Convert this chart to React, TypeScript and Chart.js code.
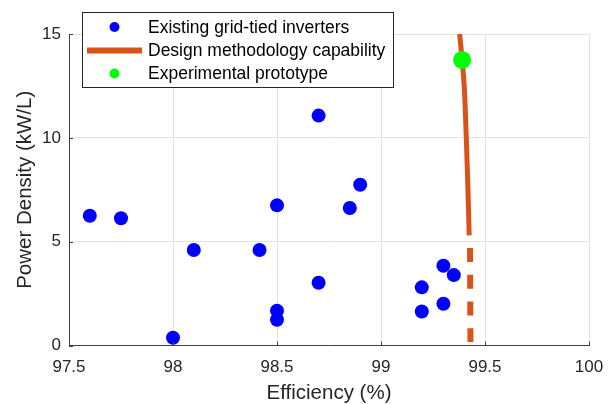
import React, { useEffect, useRef } from "react";
import { Chart, registerables } from "chart.js";

Chart.register(...registerables);

// ---- Data ----
const existingEfficiency = [97.6, 97.75, 98.0, 98.1, 98.416, 98.5, 98.5, 98.5, 98.7, 98.7, 98.85, 98.9, 99.196, 99.196, 99.3, 99.35, 99.3];
const existingDensity = [6.25, 6.13, 0.37, 4.6, 4.6, 6.75, 1.67, 1.24, 11.07, 3.02, 6.62, 7.74, 2.8, 1.64, 3.84, 3.39, 2.01];

const capabilityEfficiency = [99.378, 99.39, 99.4, 99.41, 99.418, 99.424];
const capabilityDensity = [15, 13.75, 12.5, 10, 7.5, 5.3];

const extrapolatedEfficiency = [99.428, 99.43];
const extrapolatedDensity = [4.69, 0.17];

const prototypeEfficiency = [99.39];
const prototypeDensity = [13.75];

const xTickValues = [97.5, 98, 98.5, 99, 99.5, 100];
const xTickLabels = ["97.5", "98", "98.5", "99", "99.5", "100"];
const yTickValues = [0, 5, 10, 15];
const yTickLabels = ["0", "5", "10", "15"];

const legendLabels = ["Existing grid-tied inverters", "Design methodology capability", "Experimental prototype"];

const FONT = '"Liberation Sans", Arial, Helvetica, sans-serif';
const BLUE = "#0000FF";
const ORANGE = "#D95319";
const GREEN = "#00FF00";
const TEXT = "#262626";

const toPoints = (xs: number[], ys: number[]) => xs.map((x, i) => ({ x, y: ys[i] }));

const tickPlugin = {
  id: "inwardTicks",
  afterDatasetsDraw(chart: any) {
    const { ctx, chartArea, scales } = chart;
    ctx.save();
    ctx.strokeStyle = "#404040";
    ctx.lineWidth = 1;
    ctx.beginPath();
    xTickValues.forEach((v) => {
      const px = Math.round(scales.x.getPixelForValue(v)) + 0.5;
      ctx.moveTo(px, chartArea.bottom);
      ctx.lineTo(px, chartArea.bottom - 4);
    });
    yTickValues.forEach((v) => {
      const py = Math.round(scales.y.getPixelForValue(v)) + 0.5;
      ctx.moveTo(chartArea.left, py);
      ctx.lineTo(chartArea.left + 4, py);
    });
    ctx.stroke();
    ctx.restore();
  },
};

const legendPlugin = {
  id: "boxLegend",
  afterDraw(chart: any) {
    const ctx = chart.ctx;
    ctx.save();
    const x0 = 82.5, y0 = 12.5, w = 311, h = 75;
    ctx.fillStyle = "#ffffff";
    ctx.fillRect(x0, y0, w, h);
    ctx.strokeStyle = "#262626";
    ctx.lineWidth = 1;
    ctx.strokeRect(x0, y0, w, h);
    const rows = [27, 50.5, 73.5];
    ctx.font = `17.5px ${FONT}`;
    ctx.textBaseline = "middle";
    ctx.textAlign = "left";
    ctx.fillStyle = BLUE;
    ctx.beginPath();
    ctx.arc(114.5, rows[0], 5, 0, Math.PI * 2);
    ctx.fill();
    ctx.strokeStyle = ORANGE;
    ctx.lineWidth = 6;
    ctx.beginPath();
    ctx.moveTo(87, rows[1]);
    ctx.lineTo(142, rows[1]);
    ctx.stroke();
    ctx.fillStyle = GREEN;
    ctx.beginPath();
    ctx.arc(114.5, rows[2], 5, 0, Math.PI * 2);
    ctx.fill();
    ctx.fillStyle = "#000000";
    legendLabels.forEach((t, i) => ctx.fillText(t, 148, rows[i] + 1));
    ctx.restore();
  },
};

export default function App() {
  const ref = useRef<HTMLCanvasElement>(null);
  useEffect(() => {
    if (!ref.current) return;
    const chart = new Chart(ref.current, {
      type: "scatter",
      data: {
        datasets: [
          {
            label: legendLabels[2],
            data: toPoints(prototypeEfficiency, prototypeDensity),
            backgroundColor: GREEN,
            borderColor: GREEN,
            borderWidth: 0,
            pointRadius: 9,
            order: 0,
          },
          {
            label: legendLabels[1],
            data: toPoints(capabilityEfficiency, capabilityDensity),
            showLine: true,
            borderColor: ORANGE,
            borderWidth: 5,
            pointRadius: 0,
            tension: 0.4,
            order: 1,
          },
          {
            label: "extrapolated",
            data: toPoints(extrapolatedEfficiency, extrapolatedDensity),
            showLine: true,
            borderColor: ORANGE,
            borderWidth: 6,
            borderDash: [14, 12.7],
            pointRadius: 0,
            order: 1,
          },
          {
            label: legendLabels[0],
            data: toPoints(existingEfficiency, existingDensity),
            backgroundColor: BLUE,
            borderColor: BLUE,
            borderWidth: 0,
            pointRadius: 7,
            order: 2,
          },
        ],
      } as any,
      options: {
        responsive: false,
        animation: false,
        layout: { padding: { top: 34, right: 27, left: 0, bottom: 0 } },
        plugins: { legend: { display: false }, tooltip: { enabled: false } },
        scales: {
          x: {
            type: "linear",
            min: 97.5,
            max: 100,
            afterFit: (s: any) => { s.height = 58.5; },
            afterBuildTicks: (s: any) => { s.ticks = xTickValues.map((v) => ({ value: v })); },
            ticks: {
              callback: (v: any) => xTickLabels[xTickValues.indexOf(Number(v))] ?? "",
              color: TEXT,
              font: { family: FONT, size: 17 },
              padding: 12,
              maxRotation: 0,
            },
            grid: { color: "#e3e3e3", drawTicks: false, lineWidth: 1 },
            border: { display: true, color: "#404040", width: 1 },
            title: {
              display: true,
              text: "Efficiency (%)",
              color: TEXT,
              font: { family: FONT, size: 20.5, lineHeight: 1.05 },
              padding: { top: 0, bottom: 0 },
            },
          },
          y: {
            type: "linear",
            min: 0,
            max: 15,
            afterFit: (s: any) => { s.width = 69; },
            afterBuildTicks: (s: any) => { s.ticks = yTickValues.map((v) => ({ value: v })); },
            ticks: {
              callback: (v: any) => yTickLabels[yTickValues.indexOf(Number(v))] ?? "",
              color: TEXT,
              font: { family: FONT, size: 17 },
              padding: 8,
            },
            grid: { color: "#e3e3e3", drawTicks: false, lineWidth: 1 },
            border: { display: true, color: "#404040", width: 1 },
            title: {
              display: true,
              text: "Power Density (kW/L)",
              color: TEXT,
              font: { family: FONT, size: 20.5 },
              padding: { top: 13, bottom: 0 },
            },
          },
        },
      } as any,
      plugins: [tickPlugin, legendPlugin],
    });
    return () => chart.destroy();
  }, []);
  return (
    <div style={{ position: "fixed", left: 0, top: 0, width: 616, height: 404, background: "#fff" }}>
      <canvas ref={ref} width={616} height={404} style={{ display: "block" }} />
    </div>
  );
}
